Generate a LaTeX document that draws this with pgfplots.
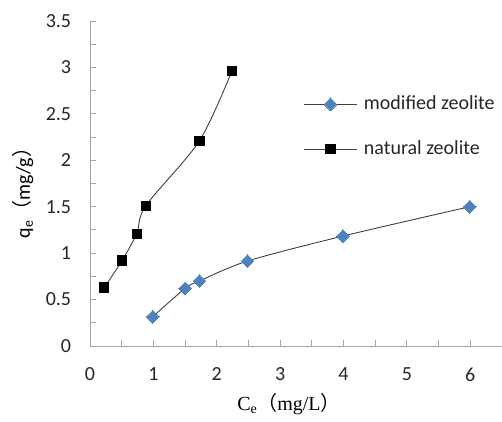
\documentclass[border=0pt]{standalone}
\usepackage{pgfplots}
\pgfplotsset{compat=1.18}
\usepackage{fontspec}
\setmainfont{Carlito}
\newfontfamily\cjk{Noto Sans CJK SC}
\newfontfamily\serif{Liberation Serif}
\definecolor{mblue}{HTML}{4F81BD}
\definecolor{axgray}{HTML}{A6A6A6}
\definecolor{lgray}{HTML}{404040}
\begin{document}
\fontsize{20}{24}\selectfont
\begin{tikzpicture}
\begin{axis}[
  name=ax,
  scale only axis,
  width=412pt, height=325pt,
  xmin=0, xmax=6.5, ymin=0, ymax=3.5,
  axis x line=bottom, axis y line=left,
  axis line style={-, axgray, line width=0.9pt},
  xtick={0,1,2,3,4,5,6},
  minor xtick={0.5,1.5,2.5,3.5,4.5,5.5,6.5},
  ytick={0,0.5,1,1.5,2,2.5,3,3.5},
  yticklabels={0,0.5,1,1.5,2,2.5,3,3.5},
  minor ytick={0.25,0.75,1.25,1.75,2.25,2.75,3.25},
  tick align=inside,
  major tick length=6pt, minor tick length=6pt,
  tick style={axgray, line width=0.9pt},
  /pgf/number format/assume math mode=true,
  xticklabel style={anchor=north, yshift=-15pt, text=black!85},
  yticklabel style={anchor=east, xshift=-12pt, text=black!85},
  xlabel={{\serif C\textsubscript{e}}{\cjk （}{\serif mg/L}{\cjk ）}},
  ylabel={q\textsubscript{e}{\cjk （}mg/g{\cjk ）}},
  xlabel style={at={(axis description cs:0.483,-0.178)}, anchor=center},
  ylabel style={at={(axis description cs:-0.1626,0.486)}, anchor=center, rotate=0},
  legend style={draw=none, fill=none, at={(axis description cs:0.519,0.675)}, anchor=west, inner sep=0pt, row sep=24pt, text=black!85},
  legend cell align=left,
  legend image code/.code={\draw[mark repeat=2,mark phase=2,#1] plot coordinates {(0pt,0pt) (26pt,0pt) (52pt,0pt)}; \path (57pt,0pt);},
  clip=false,
]
\addplot[smooth, lgray, line width=0.9pt, mark=square*, mark size=4.5pt, mark options={rotate=45, fill=mblue, draw=mblue, line width=0pt}]
  coordinates {(0.99,0.315) (1.50,0.62) (1.727,0.70) (2.485,0.915) (3.99,1.184) (5.99,1.50)};
\addlegendentry{modified zeolite}
\addplot[smooth, lgray, line width=0.9pt, mark=square*, mark size=4.6pt, mark options={fill=black, draw=black, line width=0pt}]
  coordinates {(0.226,0.63) (0.505,0.92) (0.737,1.21) (0.88,1.51) (1.727,2.21) (2.238,2.96)};
\addlegendentry{natural zeolite}
\end{axis}
\pgfresetboundingbox
\path[use as bounding box] (-90pt,-75pt) rectangle (412pt,346pt);
\end{tikzpicture}
\end{document}
